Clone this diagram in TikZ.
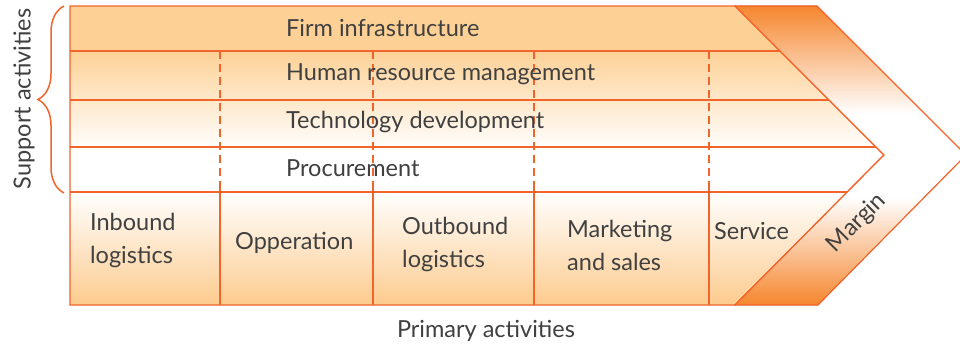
\documentclass[tikz,border=0pt]{standalone}
\usepackage{fontspec}
\setmainfont{Lato}
\usetikzlibrary{decorations.pathreplacing}

\definecolor{vcline}{HTML}{F2642A}
\definecolor{vcfill}{HTML}{FDD196}
\definecolor{vcdeep}{HTML}{F5862E}
\definecolor{vctext}{HTML}{404040}

% margin band: orange at both ends, white in the middle
\pgfdeclareverticalshading{marginshade}{100bp}{color(0bp)=(vcdeep); color(25bp)=(vcdeep); color(43bp)=(white); color(57bp)=(white); color(75bp)=(vcdeep); color(100bp)=(vcdeep)}

\tikzset{
  rowline/.style={draw=vcline, line width=1.4pt},
  colline/.style={draw=vcline, line width=2pt, dash pattern=on 8pt off 5pt},
  colsolid/.style={draw=vcline, line width=2pt},
  lbl/.style={text=vctext, font=\fontsize{23.5}{33}\selectfont, inner sep=0pt, align=left}
}

\begin{document}
\begin{tikzpicture}[x=1pt,y=-1pt]
	\useasboundingbox (0,0) rectangle (960,347);
	% body of the chain
	\begin{scope}
		\clip (70,6) -- (735,6) -- (884,155) -- (735,305) -- (70,305) -- cycle;
		\fill[vcfill] (70,6) rectangle (900,51);
		\shade[top color=vcfill, bottom color=white] (70,51) rectangle (900,150);
		\fill[white] (70,150) rectangle (900,192);
		\shade[top color=white, bottom color=vcfill!92!vcdeep] (70,192) rectangle (900,305);
		\foreach \y in {51,100,147,192}
			\draw[rowline] (70,\y) -- (900,\y);
		\foreach \x in {220,373,534,709} {
			\draw[colline] (\x,51) -- (\x,192);
			\draw[colsolid] (\x,186) -- (\x,305);
		}
	\end{scope}
	\draw[rowline] (70,6) -- (735,6) -- (884,155) -- (735,305) -- (70,305) -- cycle;
	% margin
	\filldraw[shading=marginshade, draw=vcline, line width=1.2pt] (735,6) -- (817,6) -- (966,155) -- (818,305) -- (735,305) -- (884,155) -- cycle;
	% support activities
	\node[lbl, anchor=west] (firm) at (286,28) {Firm infrastructure};
	\node[lbl, anchor=west] (hrm) at (286,74) {Human resource management};
	\node[lbl, anchor=west] (tech) at (286,122) {Technology development};
	\node[lbl, anchor=west] (proc) at (286,168) {Procurement};
	% primary activities
	\node[lbl, anchor=west] (inb) at (90,240) {Inbound\\logistics};
	\node[lbl, anchor=west] (oper) at (235,243) {Opperation};
	\node[lbl, anchor=west] (outb) at (402,244) {Outbound\\logistics};
	\node[lbl, anchor=west] (mark) at (567,245) {Marketing\\and sales};
	\node[lbl, anchor=west] (serv) at (714,231) {Service};
	\node[lbl, rotate=45] (marg) at (857,223) {Margin};
	\node[lbl] (prim) at (486,331) {Primary activities};
	\node[lbl, rotate=90] (supp) at (24,99) {Support activities};
	\draw[draw=vcline, line width=1.5pt, decorate, decoration={brace, amplitude=26pt}] (64,193) -- (64,6);
\end{tikzpicture}
\end{document}
